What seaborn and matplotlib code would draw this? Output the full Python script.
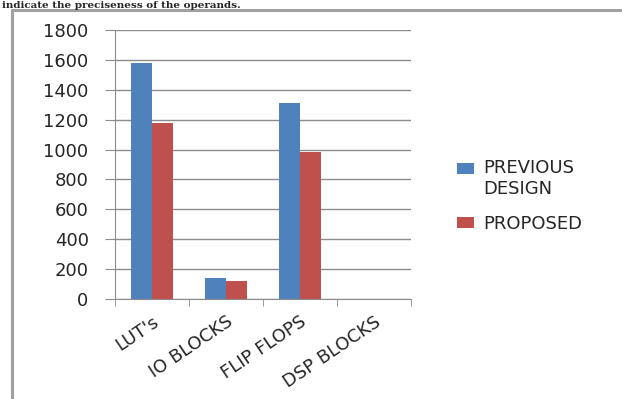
import pandas as pd
import seaborn as sns
import matplotlib.pyplot as plt
from matplotlib.lines import Line2D

# datos del grafico
categorias = ["LUT's", "IO BLOCKS", "FLIP FLOPS", "DSP BLOCKS"]
previous = [1580, 140, 1310, 0]
proposed = [1180, 120, 985, 0]
series = ["PREVIOUS\nDESIGN", "PROPOSED"]

df = pd.DataFrame({
    "cat": categorias * 2,
    "valor": previous + proposed,
    "serie": [series[0]] * 4 + [series[1]] * 4,
})

sns.set_style("white")
plt.rcParams["font.family"] = ["DejaVu Sans"]

W, H = 622, 399
fig = plt.figure(figsize=(W / 100, H / 100), dpi=100)
ax = fig.add_axes([115 / W, 100 / H, 296 / W, 269 / H])

sns.barplot(data=df, x="cat", y="valor", hue="serie", order=categorias,
            palette=["#4F81BD", "#C0504D"], width=0.57, saturation=1,
            linewidth=0, ax=ax)

ax.set_ylim(0, 1800)
ax.set_yticks(range(0, 1801, 200))
ax.set_xlim(-0.5, 3.5)
ax.grid(axis="y", color="#8c8c8c", linewidth=1)
ax.set_axisbelow(True)
for s in ["top", "right"]:
    ax.spines[s].set_visible(False)
for s in ["left", "bottom"]:
    ax.spines[s].set_color("#8c8c8c")
ax.set_xlabel("")
ax.set_ylabel("")
ax.tick_params(axis="y", length=7, color="#8c8c8c", labelsize=13, pad=12, left=True)
ax.set_xticks([-0.5, 0.5, 1.5, 2.5, 3.5], minor=True)
ax.tick_params(axis="x", which="minor", length=5, color="#8c8c8c", bottom=True)
ax.tick_params(axis="x", which="major", length=0, labelsize=13, pad=10)
ax.set_xticks(range(4))
ax.set_xticklabels(categorias, rotation=34, ha="right", rotation_mode="anchor")

leg = ax.legend(loc="center left", bbox_to_anchor=(441 / W, 1 - 196 / H),
                bbox_transform=fig.transFigure, frameon=False, fontsize=13,
                handlelength=0.9, handleheight=0.55, labelspacing=0.9,
                handletextpad=0.55)
# el cuadrado de la primera serie va a la altura de la primera linea
h0 = leg.legend_handles[0]
h0.set_y(h0.get_y() + 8)

# borde de la pagina
fig.add_artist(Line2D([12 / W, 12 / W], [0, 1 - 10 / H], color="#a0a0a0", linewidth=2.2))
fig.add_artist(Line2D([12 / W, 1], [1 - 10 / H, 1 - 10 / H], color="#a0a0a0", linewidth=2.2))

# texto de la pagina encima del grafico
fig.text(2 / W, 1 - 8 / H, "indicate the preciseness of the operands.",
         ha="left", va="baseline", fontsize=7.5, fontweight="bold",
         family="DejaVu Serif")

plt.savefig("out.png", dpi=100)
